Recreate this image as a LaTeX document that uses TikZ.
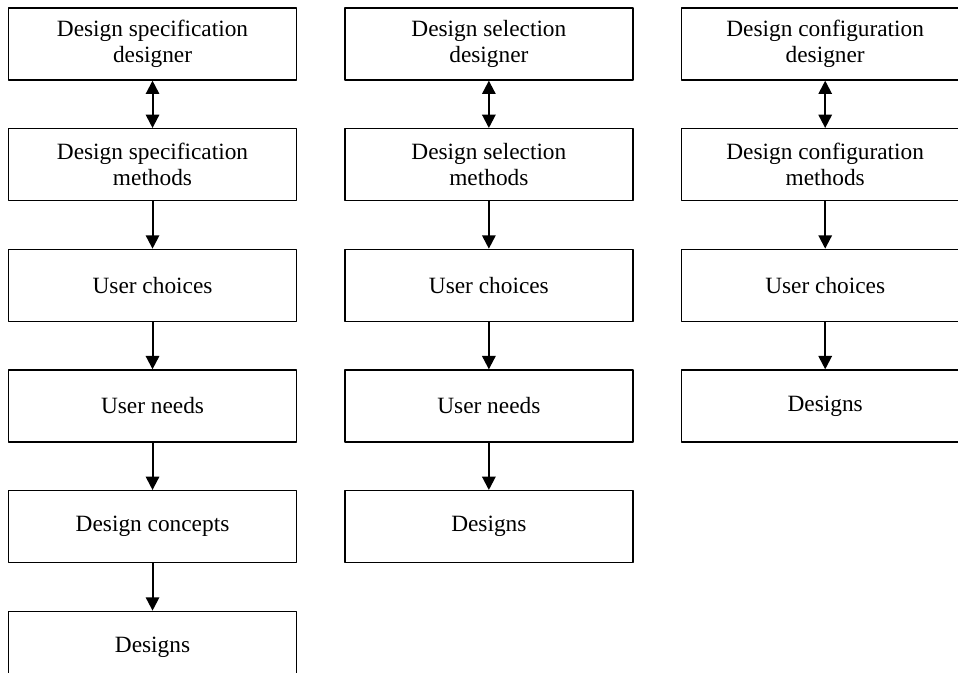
\documentclass[tikz,border=0pt]{standalone}
\usepackage{fontspec}
\setmainfont{Liberation Serif}
\usetikzlibrary{arrows.meta,positioning}

\begin{document}
\begin{tikzpicture}[>={Triangle[width=10pt,length=10pt]},line join=bevel,
  box/.style={draw,line width=1pt,minimum width=216pt,minimum height=54pt,
    align=center,inner sep=0pt,font=\fontsize{17.5}{19.5}\selectfont},
  link/.style={line width=1.5pt},
  node distance=35.5pt and 35.25pt]

\useasboundingbox (0pt,0pt) rectangle (718.5pt,-504.75pt);

% Column: specification
\node[box] (A0) at (114.4pt,-33pt) {Design specification\\designer};
\node[box,below=of A0] (A1) {Design specification\\methods};
\node[box,below=of A1] (A2) {User choices};
\node[box,below=of A2] (A3) {User needs};
\node[box,below=of A3] (A4) {Design concepts};
\node[box,below=of A4] (A5) {Designs};

% Column: selection
\node[box,right=of A0] (B0) {Design selection\\designer};
\node[box,below=of B0] (B1) {Design selection\\methods};
\node[box,below=of B1] (B2) {User choices};
\node[box,below=of B2] (B3) {User needs};
\node[box,below=of B3] (B4) {Designs};

% Column: configuration
\node[box,right=of B0] (C0) {Design configuration\\designer};
\node[box,below=of C0] (C1) {Design configuration\\methods};
\node[box,below=of C1] (C2) {User choices};
\node[box,below=of C2] (C3) {Designs};

% Edges: designer <-> methods
\draw[link,<->] (A0) -- (A1);
\draw[link,<->] (B0) -- (B1);
\draw[link,<->] (C0) -- (C1);

% Edges: specification chain
\draw[link,->] (A1) -- (A2);
\draw[link,->] (A2) -- (A3);
\draw[link,->] (A3) -- (A4);
\draw[link,->] (A4) -- (A5);

% Edges: selection chain
\draw[link,->] (B1) -- (B2);
\draw[link,->] (B2) -- (B3);
\draw[link,->] (B3) -- (B4);

% Edges: configuration chain
\draw[link,->] (C1) -- (C2);
\draw[link,->] (C2) -- (C3);

\end{tikzpicture}
\end{document}
